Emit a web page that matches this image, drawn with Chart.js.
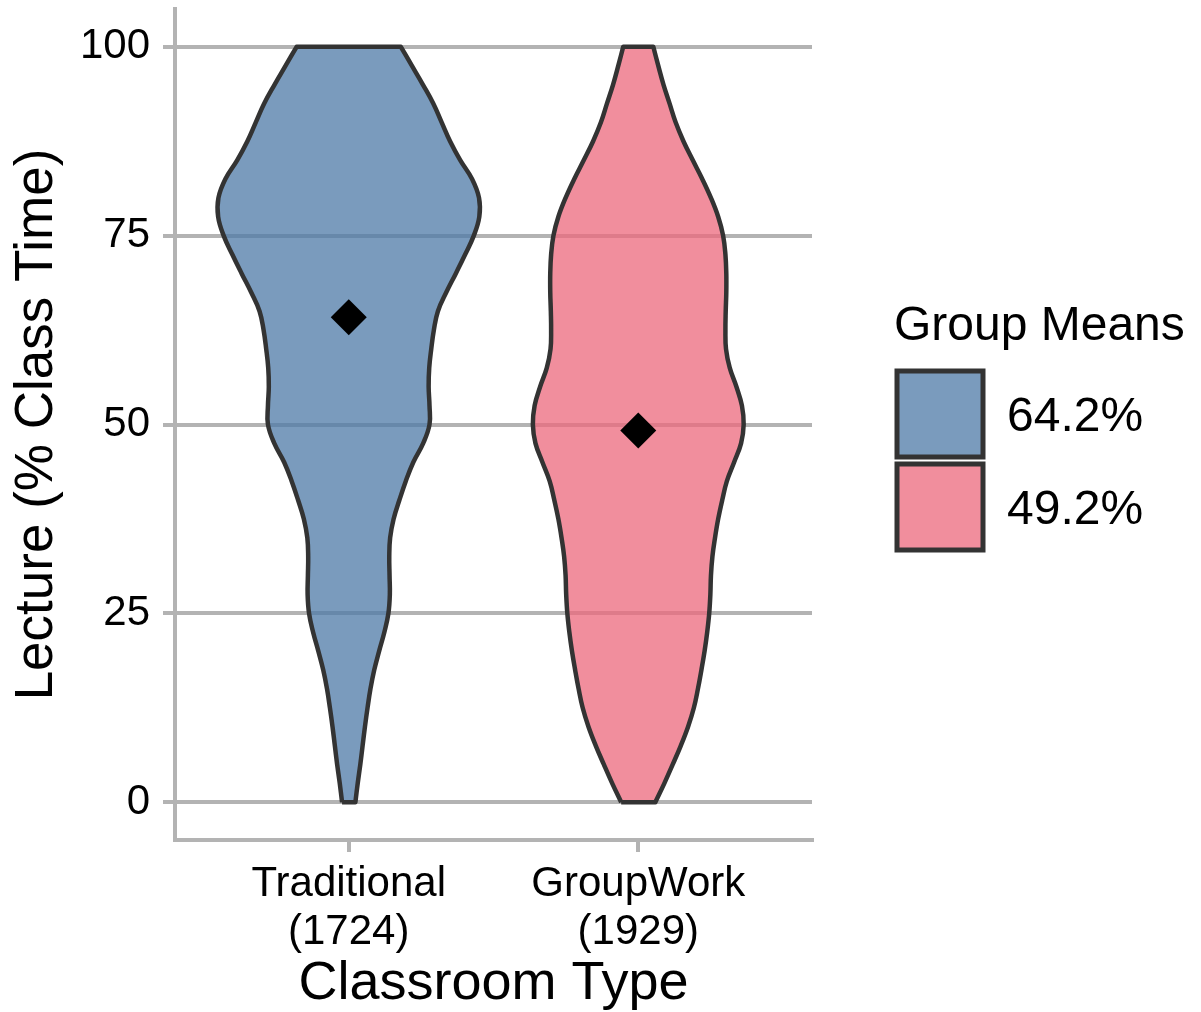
<!DOCTYPE html>
<html>
<head>
<meta charset="utf-8">
<script src="https://cdn.jsdelivr.net/npm/chart.js@4.4.1/dist/chart.umd.min.js"></script>
<style>
html,body{margin:0;padding:0;background:#fff;}
#wrap{width:1201px;height:1012px;position:relative;}
</style>
</head>
<body>
<div id="wrap"><canvas id="c"></canvas></div>
<script>
// ---- data ----
const categories = ['Traditional', 'GroupWork'];
const counts = [1724, 1929];
const groupMeans = [64.2, 49.2];
const meanLabels = ['64.2%', '49.2%'];
const yTicks = [0, 25, 50, 75, 100];
// y levels (lecture %) at which the violin half-widths were read
const densityLevels = [0,2.5,5,7.5,10,12.5,15,17.5,20,22.5,25,27.5,30,32.5,35,37.5,40,42.5,45,47.5,50,
  52.5,55,57.5,60,62.5,65,67.5,70,72.5,75,77.5,80,82.5,85,87.5,90,92.5,95,97.5,100];
// half-widths of each violin (x-axis units) at the levels above
const traditionalHalfWidth = [0.023,0.031,0.040,0.048,0.056,0.065,0.075,0.088,0.105,0.123,0.137,0.142,0.141,0.140,0.143,0.155,
  0.175,0.197,0.223,0.257,0.279,0.279,0.276,0.278,0.285,0.294,0.308,0.337,0.370,0.402,0.432,0.451,0.450,0.426,0.385,
  0.350,0.321,0.292,0.256,0.218,0.180];
const groupWorkHalfWidth = [0.059,0.090,0.119,0.147,0.172,0.192,0.206,0.218,0.229,0.238,0.245,0.249,0.251,0.256,0.265,0.276,
  0.290,0.306,0.331,0.355,0.364,0.358,0.339,0.316,0.303,0.301,0.302,0.304,0.304,0.301,0.293,0.276,0.251,0.221,0.188,
  0.156,0.129,0.108,0.087,0.069,0.052];
const fillColors = ['rgba(78,121,167,0.75)', 'rgba(236,104,124,0.75)'];
const outlineColor = '#333333';

// outline path: up the left side, across the top, down the right side, back across the bottom.
// corner points are doubled so the flat top / bottom stay straight under the spline tension.
function outline(center, hw) {
  const n = densityLevels.length;
  const pts = [];
  for (let i = 0; i < n; i++) pts.push({x: center - hw[i], y: densityLevels[i]});
  pts.push({x: center - hw[n - 1], y: densityLevels[n - 1]});
  pts.push({x: center + hw[n - 1], y: densityLevels[n - 1]});
  for (let i = n - 1; i >= 0; i--) pts.push({x: center + hw[i], y: densityLevels[i]});
  pts.push({x: center + hw[0], y: densityLevels[0]});
  pts.push({x: center - hw[0], y: densityLevels[0]});
  pts.push({x: center - hw[0], y: densityLevels[0]});
  return pts;
}
const halfWidths = [traditionalHalfWidth, groupWorkHalfWidth];

const FONT = "'Liberation Sans', Arial, Helvetica, sans-serif";
Chart.defaults.font.family = FONT;
Chart.defaults.color = '#000';

const violinDatasets = categories.map((c, i) => ({
  type: 'line',
  label: meanLabels[i],
  data: outline(i + 1, halfWidths[i]),
  backgroundColor: fillColors[i],
  borderColor: outlineColor,
  borderWidth: 4.5,
  borderJoinStyle: 'round',
  fill: 'shape',
  tension: 0.4,
  pointRadius: 0,
  order: 2
}));

const meanDataset = {
  type: 'scatter',
  label: 'means',
  data: groupMeans.map((m, i) => ({x: i + 1, y: m})),
  pointStyle: 'rectRot',
  pointRadius: 18,
  backgroundColor: '#000',
  borderWidth: 0,
  order: 1
};

const legendPlugin = {
  id: 'groupMeansLegend',
  afterDraw(chart) {
    const ctx = chart.ctx;
    ctx.save();
    ctx.fillStyle = '#000';
    ctx.font = '48px ' + FONT;
    ctx.textAlign = 'left';
    ctx.textBaseline = 'alphabetic';
    ctx.fillText('Group Means', 894, 340);
    violinDatasets.forEach((ds, i) => {
      const top = 371 + i * 93;
      ctx.fillStyle = '#fff';
      ctx.fillRect(897, top, 86, 86);
      ctx.fillStyle = ds.backgroundColor;
      ctx.fillRect(897, top, 86, 86);
      ctx.lineWidth = 5;
      ctx.strokeStyle = outlineColor;
      ctx.strokeRect(897, top, 86, 86);
      ctx.fillStyle = '#000';
      ctx.fillText(ds.label, 1007, top + 43 + 17);
    });
    ctx.restore();
  }
};

new Chart(document.getElementById('c'), {
  type: 'line',
  data: { datasets: [...violinDatasets, meanDataset] },
  options: {
    responsive: true,
    maintainAspectRatio: false,
    animation: false,
    events: [],
    layout: { autoPadding: false, padding: { top: 9, left: 0, right: 389, bottom: 0 } },
    plugins: { legend: { display: false }, tooltip: { enabled: false } },
    scales: {
      x: {
        type: 'linear',
        position: 'bottom',
        min: 0.4,
        max: 2.6,
        afterBuildTicks: s => { s.ticks = categories.map((c, i) => ({value: i + 1})); },
        afterFit: s => { s.height = 172; s.paddingLeft = 0; s.paddingRight = 0; },
        ticks: {
          callback: (v, idx) => [categories[idx], '(' + counts[idx] + ')'],
          font: { size: 42, lineHeight: 1.15 },
          color: '#000',
          padding: 8,
          maxRotation: 0,
          autoSkip: false
        },
        grid: { drawOnChartArea: false, drawTicks: true, tickLength: 12, color: '#b3b3b3', lineWidth: 4 },
        border: { display: true, color: '#b3b3b3', width: 4 },
        title: { display: true, text: 'Classroom Type', font: { size: 54, lineHeight: 1 }, color: '#000', padding: { top: 0, bottom: 1 } }
      },
      y: {
        type: 'linear',
        min: -5,
        max: 105,
        afterBuildTicks: s => { s.ticks = yTicks.map(v => ({value: v})); },
        afterFit: s => { s.width = 175; s.paddingTop = 0; s.paddingBottom = 0; },
        ticks: { font: { size: 42 }, color: '#000', padding: 13, callback: v => String(v) },
        grid: { drawOnChartArea: true, drawTicks: true, tickLength: 12, color: '#b3b3b3', lineWidth: 4 },
        border: { display: true, color: '#b3b3b3', width: 4 },
        title: { display: true, text: 'Lecture (% Class Time)', font: { size: 53, lineHeight: 1 }, color: '#000', padding: { top: 10.5, bottom: 0 } }
      }
    }
  },
  plugins: [legendPlugin]
});
</script>
</body>
</html>
